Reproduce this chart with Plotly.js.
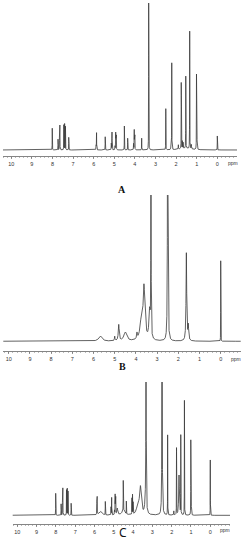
<!DOCTYPE html>
<html>
<head>
<meta charset="utf-8">
<script src="https://cdn.plot.ly/plotly-3.0.1.min.js"></script>
<style>html,body{margin:0;padding:0;background:#fff;}#chart{width:245px;height:550px;}</style>
</head>
<body>
<div id="chart"></div>
<script>
// ---- Data (chemical shift in ppm, relative intensity, half-width in ppm) ----
const shiftsA = [8.01,7.73,7.66,7.64,7.45,7.41,7.37,7.21,5.88,5.86,5.44,5.14,5.11,4.96,4.93,4.90,4.51,4.35,4.06,4.03,4.00,3.67,3.33,2.50,2.25,2.21,1.89,1.75,1.70,1.66,1.53,1.34,1.26,1.01,0.99,0.00,1.55];
const intensA = [0.148,0.073,0.12,0.165,0.17,0.177,0.16,0.086,0.105,0.114,0.09,0.115,0.12,0.11,0.118,0.10,0.163,0.08,0.11,0.136,0.10,0.08,1.0,0.28,0.04,0.59,0.03,0.45,0.05,0.04,0.49,0.80,0.03,0.50,0.36,0.095,0.012];
const widthA  = [0.004,0.004,0.004,0.004,0.004,0.004,0.004,0.004,0.004,0.004,0.004,0.004,0.004,0.004,0.004,0.004,0.004,0.004,0.004,0.004,0.004,0.004,0.004,0.004,0.006,0.004,0.006,0.004,0.006,0.006,0.004,0.004,0.008,0.004,0.004,0.003,0.3];

const shiftsB = [5.68,5.00,4.81,4.50,3.95,3.75,3.62,3.35,3.29,2.50,1.62,1.53,0.00];
const intensB = [0.036,0.03,0.11,0.06,0.04,0.12,0.36,0.2,2.0,3.0,0.6,0.10,0.55];
const widthB  = [0.09,0.015,0.025,0.08,0.02,0.07,0.05,0.04,0.006,0.01,0.018,0.02,0.003];

const shiftsC = [8.01,7.73,7.66,7.64,7.45,7.41,7.37,7.21,5.88,5.86,5.70,5.44,5.14,5.11,4.96,4.93,4.90,4.82,4.51,4.50,4.35,4.06,4.03,4.00,3.75,3.67,3.62,3.35,3.33,2.50,2.21,1.89,1.75,1.62,1.53,1.34,1.01,0.99,0.00];
const intensC = [0.165,0.085,0.14,0.2,0.19,0.2,0.18,0.09,0.12,0.13,0.03,0.1,0.12,0.13,0.14,0.15,0.13,0.05,0.22,0.04,0.095,0.12,0.145,0.11,0.08,0.05,0.2,0.15,2.0,2.0,0.6,0.03,0.5,0.3,0.59,0.86,0.55,0.4,0.415];
const widthC  = [0.004,0.004,0.004,0.004,0.004,0.004,0.004,0.004,0.004,0.004,0.09,0.004,0.004,0.004,0.004,0.004,0.004,0.03,0.004,0.08,0.004,0.004,0.004,0.004,0.07,0.004,0.05,0.04,0.006,0.01,0.004,0.006,0.004,0.02,0.004,0.004,0.004,0.004,0.003];

const tickValues = [0,1,2,3,4,5,6,7,8,9,10];
const tickLabels = ["0","1","2","3","4","5","6","7","8","9","10"];
const panelLabels = ["A","B","C"];
const unitLabel = "ppm";

// ---- Build Lorentzian line spectrum from the peak lists ----
function spectrum(shifts, intens, widths) {
  const xs = [], ys = [];
  for (let i = 0; i <= 11700; i++) {
    const x = Math.round((10.6 - i * 0.001) * 1000) / 1000;
    let y = 0;
    for (let k = 0; k < shifts.length; k++) {
      const d = (x - shifts[k]) / widths[k];
      y += intens[k] / (1 + d * d);
    }
    xs.push(x); ys.push(y);
  }
  return {x: xs, y: ys};
}

const W = 245, H = 550;
const fx = px => px / W;
const fy = py => 1 - py / H;

const sA = spectrum(shiftsA, intensA, widthA);
const sB = spectrum(shiftsB, intensB, widthB);
const sC = spectrum(shiftsC, intensC, widthC);

const lineStyle = {color: '#3a3a3a', width: 0.8};
const traces = [
  {x: sA.x, y: sA.y, type: 'scatter', mode: 'lines', line: lineStyle, xaxis: 'x', yaxis: 'y', hoverinfo: 'skip'},
  {x: sB.x, y: sB.y, type: 'scatter', mode: 'lines', line: lineStyle, xaxis: 'x2', yaxis: 'y2', hoverinfo: 'skip'},
  {x: sC.x, y: sC.y, type: 'scatter', mode: 'lines', line: lineStyle, xaxis: 'x3', yaxis: 'y3', hoverinfo: 'skip'}
];

const tickFont = {family: 'Liberation Sans, Arial, sans-serif', size: 5.5, color: '#333'};

function xAxis(domainPx, range, yref) {
  return {
    domain: [fx(domainPx[0]), fx(domainPx[1])],
    range: range,
    anchor: yref,
    showline: true, linecolor: '#666', linewidth: 0.8,
    showgrid: false, zeroline: false,
    tickmode: 'array', tickvals: tickValues, ticktext: tickLabels,
    ticks: 'outside', ticklen: 2.5, tickwidth: 0.7, tickcolor: '#666',
    minor: {ticks: 'outside', ticklen: 1.3, tickwidth: 0.5, tickcolor: '#777', tickmode: 'linear', tick0: 0, dtick: 0.2, showgrid: false},
    tickfont: tickFont,
    fixedrange: true
  };
}
function yAxis(domainPx, range) {
  return {
    domain: [fy(domainPx[1]), fy(domainPx[0])],
    range: range, visible: false, fixedrange: true
  };
}

function unitNote(xLeftPx, yPx) {
  return {text: unitLabel, xref: 'paper', yref: 'paper', x: fx(xLeftPx), y: fy(yPx), xanchor: 'left', yanchor: 'middle', showarrow: false, font: {family: 'Liberation Sans, Arial, sans-serif', size: 5, color: '#333'}};
}

const layout = {
  width: W, height: H,
  margin: {l: 0, r: 0, t: 0, b: 0},
  paper_bgcolor: '#fff', plot_bgcolor: '#fff',
  showlegend: false,
  xaxis:  xAxis([3, 237], [10.40, -0.956], 'y'),
  yaxis:  yAxis([3, 156], [-0.0408, 1.0]),
  xaxis2: xAxis([3.3, 240.7], [10.255, -0.943], 'y2'),
  yaxis2: yAxis([195, 350.7], [-0.0643, 1.0]),
  xaxis3: xAxis([12.7, 230], [10.238, -1.021], 'y3'),
  yaxis3: yAxis([382, 524], [-0.065, 1.0]),
  annotations: [
    unitNote(226, 163),
    unitNote(229, 359),
    unitNote(218, 530),
    {text: '<b>' + panelLabels[0] + '</b>', xref: 'paper', yref: 'paper', x: fx(122), y: fy(182), showarrow: false, font: {family: 'Liberation Serif, Times New Roman, serif', size: 10, color: '#111'}},
    {text: '<b>' + panelLabels[1] + '</b>', xref: 'paper', yref: 'paper', x: fx(122), y: fy(374), showarrow: false, font: {family: 'Liberation Serif, Times New Roman, serif', size: 10, color: '#111'}},
    {text: panelLabels[2], xref: 'paper', yref: 'paper', x: fx(123), y: fy(543), showarrow: false, font: {family: 'Noto Sans, DejaVu Sans, sans-serif', size: 12, color: '#111'}}
  ]
};

Plotly.newPlot('chart', traces, layout, {staticPlot: true, displayModeBar: false});
</script>
</body>
</html>
